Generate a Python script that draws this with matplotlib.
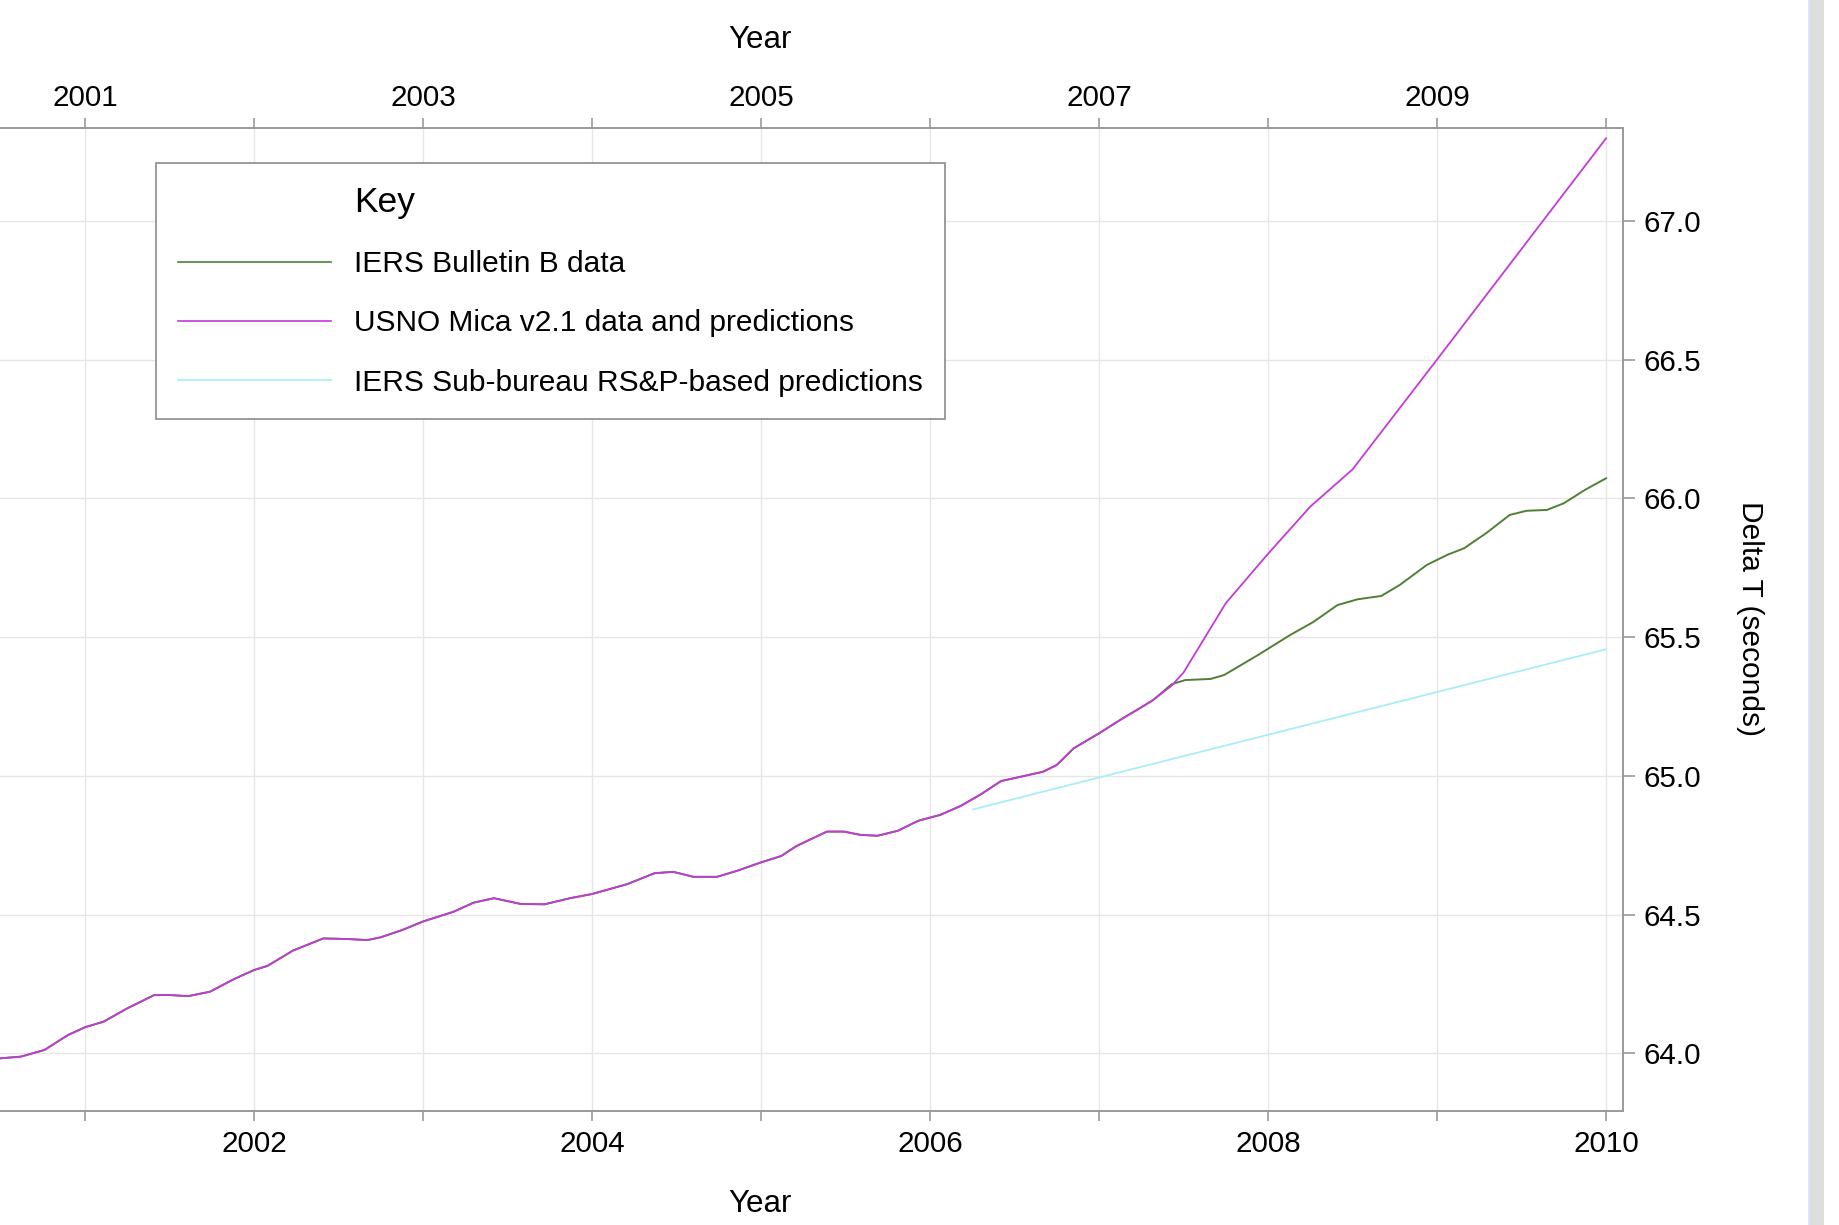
import matplotlib
matplotlib.use("Agg")
import matplotlib.pyplot as plt
from matplotlib.lines import Line2D
from matplotlib.patches import Rectangle

plt.rcParams['font.family'] = ['Liberation Sans', 'DejaVu Sans']

# IERS Bulletin B observed Delta T (decimal year, seconds)
obs_year = [2000.50, 2000.62, 2000.76, 2000.90, 2001.00, 2001.11, 2001.25, 2001.41,
            2001.50, 2001.61, 2001.74, 2001.88, 2002.00, 2002.08, 2002.23, 2002.41,
            2002.55, 2002.67, 2002.75, 2002.88, 2003.00, 2003.18, 2003.30, 2003.42,
            2003.58, 2003.72, 2003.87, 2004.00, 2004.21, 2004.37, 2004.48, 2004.60,
            2004.74, 2004.86, 2005.00, 2005.12, 2005.21, 2005.39, 2005.49, 2005.59,
            2005.69, 2005.81, 2005.93, 2006.06, 2006.18, 2006.30, 2006.42, 2006.54,
            2006.67, 2006.75, 2006.85, 2007.00, 2007.14, 2007.24, 2007.32, 2007.43,
            2007.51, 2007.66, 2007.74, 2007.94, 2008.13, 2008.27, 2008.41, 2008.53,
            2008.67, 2008.78, 2008.94, 2009.06, 2009.16, 2009.29, 2009.43, 2009.53,
            2009.65, 2009.75, 2009.88, 2010.00]
obs_dt = [63.982, 63.988, 64.012, 64.066, 64.094, 64.114, 64.162, 64.210,
          64.210, 64.206, 64.222, 64.267, 64.300, 64.315, 64.370, 64.414,
          64.412, 64.408, 64.418, 64.445, 64.475, 64.510, 64.543, 64.559,
          64.538, 64.537, 64.559, 64.574, 64.610, 64.649, 64.654, 64.636,
          64.636, 64.658, 64.688, 64.711, 64.747, 64.799, 64.799, 64.787,
          64.784, 64.802, 64.838, 64.859, 64.891, 64.933, 64.981, 64.997,
          65.015, 65.039, 65.099, 65.153, 65.207, 65.243, 65.273, 65.330,
          65.345, 65.349, 65.363, 65.435, 65.507, 65.555, 65.615, 65.636,
          65.648, 65.688, 65.760, 65.796, 65.820, 65.874, 65.940, 65.955,
          65.958, 65.982, 66.032, 66.072]

# USNO Mica: follows the data up to mid-2007, then its own predictions
mica_cut = 55
mica_pred_year = [2007.43, 2007.50, 2007.75, 2008.00, 2008.25, 2008.50, 2009.00, 2010.00]
mica_pred_dt = [65.325, 65.372, 65.622, 65.800, 65.970, 66.104, 66.500, 67.297]

# IERS sub-bureau rapid service / prediction line
rsp_year = [2006.255, 2010.0]
rsp_dt = [64.879, 65.456]

series_labels = ['IERS Bulletin B data',
                 'USNO Mica v2.1 data and predictions',
                 'IERS Sub-bureau RS&P-based predictions']
series_colors = ['#4f8036', '#c43ad8', '#a6eef8']

year_ticks = list(range(2001, 2011))
dt_ticks = [64.0, 64.5, 65.0, 65.5, 66.0, 66.5, 67.0]

W, H = 1839, 1225
fs = 21.3
fig = plt.figure(figsize=(W / 100, H / 100), dpi=100)
ax = fig.add_axes([-92 / W, 1 - 1110.5 / H, (1623.3 + 92) / W, (1110.5 - 127.5) / H])

mica_year = obs_year[:mica_cut] + mica_pred_year
mica_dt = obs_dt[:mica_cut] + mica_pred_dt

ax.plot(obs_year, obs_dt, color=series_colors[0], lw=1.4)
ax.plot(rsp_year, rsp_dt, color=series_colors[2], lw=1.3)
ax.plot(mica_year, mica_dt, color=series_colors[1], lw=1.3)

ax.set_xlim(1999.953, 2010.102)
ax.set_ylim(63.794, 67.336)

spine_col = '#9a9a9a'
for side, sp in ax.spines.items():
    sp.set_color(spine_col)
    sp.set_linewidth(1.4)
ax.spines['left'].set_visible(False)

ax.grid(True, color='#e6e6e6', lw=1.0)
ax.set_axisbelow(True)

ax.set_xticks(year_ticks)
ax.set_xticklabels([str(y) if y % 2 == 0 else '' for y in year_ticks])
ax.yaxis.tick_right()
ax.set_yticks(dt_ticks)
ax.set_yticklabels(['%.1f' % v for v in dt_ticks])
ax.tick_params(axis='x', direction='out', length=7.2, width=1.2, color=spine_col,
               labelsize=fs, pad=7)
ax.tick_params(axis='y', direction='out', length=8.6, width=1.2, color=spine_col,
               labelsize=fs, pad=6, left=False, right=True)

top = ax.twiny()
top.set_xlim(ax.get_xlim())
top.set_xticks(year_ticks)
top.set_xticklabels([str(y) if y % 2 == 1 else '' for y in year_ticks])
top.tick_params(axis='x', direction='out', length=7.2, width=1.2, color=spine_col,
                labelsize=fs, pad=4)
for sp in top.spines.values():
    sp.set_visible(False)

fig.text(760 / W, 1 - 40.5 / H, 'Year', fontsize=22.5, ha='center', va='center')
fig.text(760 / W, 1 - 1203.5 / H, 'Year', fontsize=22.5, ha='center', va='center')
fig.text(1750 / W, 1 - 618 / H, 'Delta T (seconds)', fontsize=21.5,
         rotation=270, ha='center', va='center')

handles = [Line2D([], [], linestyle='none')]
handles += [Line2D([], [], color=c, lw=1.2) for c in series_colors]
leg = ax.legend(handles, ['Key'] + series_labels, loc='upper left',
                bbox_to_anchor=(156 / W, 1 - 163.3 / H),
                bbox_transform=fig.transFigure, borderaxespad=0,
                fontsize=21.5, handlelength=5.1, handletextpad=0.77,
                labelspacing=1.05, borderpad=0.75, fancybox=False,
                framealpha=1, edgecolor='#8a8a8a')
leg.get_frame().set_linewidth(1.2)
leg.get_texts()[0].set_fontsize(25.5)

# grey strip down the right-hand edge
fig.patches.append(Rectangle((1808 / W, 0), 16 / W, 1, transform=fig.transFigure,
                             facecolor='#dedede', edgecolor='none'))
fig.patches.append(Rectangle((1808 / W, 0), 2 / W, 1, transform=fig.transFigure,
                             facecolor='#dde3f5', edgecolor='none'))

fig.savefig('out.png', dpi=100)
